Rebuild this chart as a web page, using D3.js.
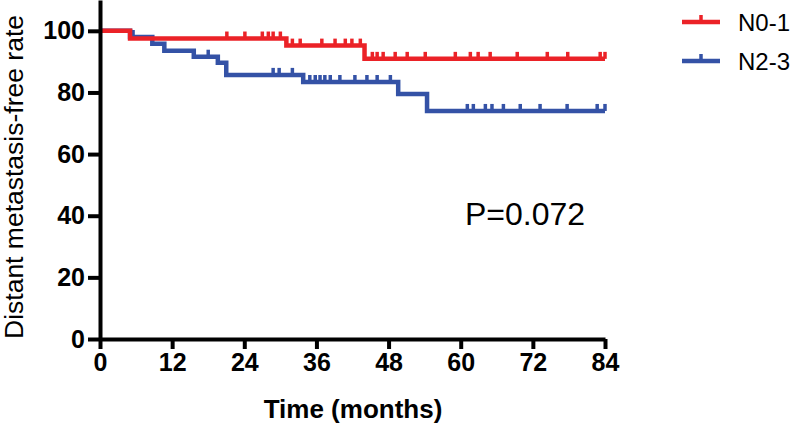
<!DOCTYPE html>
<html>
<head>
<meta charset="utf-8">
<script src="https://cdn.jsdelivr.net/npm/d3@7"></script>
<style>
  html, body { margin: 0; padding: 0; background: #fff; }
  svg { display: block; }
</style>
</head>
<body>
<svg id="chart" width="800" height="425"></svg>
<script>
// ---- data ----
const xTicks = [0, 12, 24, 36, 48, 60, 72, 84];
const yTicks = [0, 20, 40, 60, 80, 100];
const seriesNames = ["N0-1", "N2-3"];
// Kaplan-Meier steps (time in months, survival %)
const redTimes = [0, 5, 31, 44];
const redSurv = [100, 97.5, 95.2, 90.9];
const redCensor = [21.1, 24.1, 27.0, 28.0, 28.8, 30.0, 32.0, 33.3, 36.9, 39.1, 40.8, 41.9, 43.3, 45.3, 46.1, 47.1, 49.1, 51.1, 54.1, 59.1, 61.6, 62.9, 64.9, 69.4, 74.4, 77.8, 83.2, 84];
const blueTimes = [0, 5, 8.7, 10.7, 15.6, 19.6, 21.0, 33.8, 49.6, 54.4];
const blueSurv = [100, 98.0, 95.8, 93.5, 91.6, 89.6, 85.7, 83.4, 79.5, 74.0];
const blueCensor = [5.5, 18.0, 28.8, 29.8, 32.0, 34.9, 35.8, 36.6, 37.4, 38.3, 39.9, 42.4, 44.4, 46.1, 48.3, 61.1, 62.1, 64.1, 65.2, 67.1, 69.9, 73.2, 77.7, 82.7, 84];
const endTime = 84;
const pLabel = "P=0.072";
const xTitle = "Time (months)";
const yTitle = "Distant metastasis-free rate";

// ---- drawing ----
const svg = d3.select("#chart");
const x = d3.scaleLinear().domain([0, 84]).range([100, 605]);
const y = d3.scaleLinear().domain([0, 110]).range([339, 0]);
const RED = "#eb2227", BLUE = "#3452a6";
const tickFont = "'Liberation Sans Narrow', 'Arial Narrow', 'Liberation Sans', sans-serif";

function survAt(times, surv, t) {
  let s = surv[0];
  for (let i = 0; i < times.length; i++) if (times[i] <= t) s = surv[i];
  return s;
}

function drawSeries(times, surv, censor, color) {
  const pts = times.map((t, i) => [t, surv[i]]);
  pts.push([endTime, surv[surv.length - 1]]);
  const line = d3.line().x(d => x(d[0])).y(d => y(d[1])).curve(d3.curveStepAfter);
  const g = svg.append("g");
  g.append("path").attr("d", line(pts)).attr("fill", "none")
    .attr("stroke", color).attr("stroke-width", 4.5).attr("stroke-linejoin", "miter");
  g.selectAll("line.c").data(censor).join("line")
    .attr("x1", d => x(d)).attr("x2", d => x(d))
    .attr("y1", d => y(survAt(times, surv, d)))
    .attr("y2", d => y(survAt(times, surv, d)) - 7)
    .attr("stroke", color).attr("stroke-width", 3.5);
}

drawSeries(blueTimes, blueSurv, blueCensor, BLUE);
drawSeries(redTimes, redSurv, redCensor, RED);

// axes
const yAxis = d3.axisLeft(y).tickValues(yTicks).tickSize(12).tickSizeOuter(0).tickPadding(3);
const gy = svg.append("g").attr("transform", "translate(100,0)").call(yAxis);
const xAxis = d3.axisBottom(x).tickValues(xTicks).tickSize(10).tickSizeOuter(0).tickPadding(4);
const gx = svg.append("g").attr("transform", "translate(0,339)").call(xAxis);
[gx, gy].forEach(g => {
  g.select(".domain").attr("stroke", "#000").attr("stroke-width", 4);
  g.selectAll(".tick line").attr("stroke", "#000").attr("stroke-width", 4);
  g.selectAll(".tick text").attr("fill", "#000")
    .style("font-family", tickFont).style("font-weight", "bold").style("font-size", "25px");
});

// axis titles
svg.append("text").attr("x", 353).attr("y", 418).attr("text-anchor", "middle")
  .style("font-family", tickFont).style("font-weight", "bold").style("font-size", "26px")
  .text(xTitle);
svg.append("text").attr("transform", "translate(23,177) rotate(-90)").attr("text-anchor", "middle")
  .style("font-family", "'Liberation Sans', Arial, sans-serif").style("font-size", "26.5px")
  .text(yTitle);

// p-value
svg.append("text").attr("x", 465).attr("y", 225)
  .style("font-family", "'Liberation Sans', Arial, sans-serif").style("font-size", "32px")
  .text(pLabel);

// legend
const legColors = [RED, BLUE];
const leg = svg.append("g");
seriesNames.forEach((name, i) => {
  const ly = 22 + i * 39;
  leg.append("line").attr("x1", 682).attr("x2", 720).attr("y1", ly).attr("y2", ly)
    .attr("stroke", legColors[i]).attr("stroke-width", 4.5);
  leg.append("line").attr("x1", 701).attr("x2", 701).attr("y1", ly).attr("y2", ly - 7)
    .attr("stroke", legColors[i]).attr("stroke-width", 3.5);
  leg.append("text").attr("x", 738).attr("y", ly + 9)
    .style("font-family", "'Liberation Sans', Arial, sans-serif").style("font-size", "24px")
    .text(name);
});
</script>
</body>
</html>
